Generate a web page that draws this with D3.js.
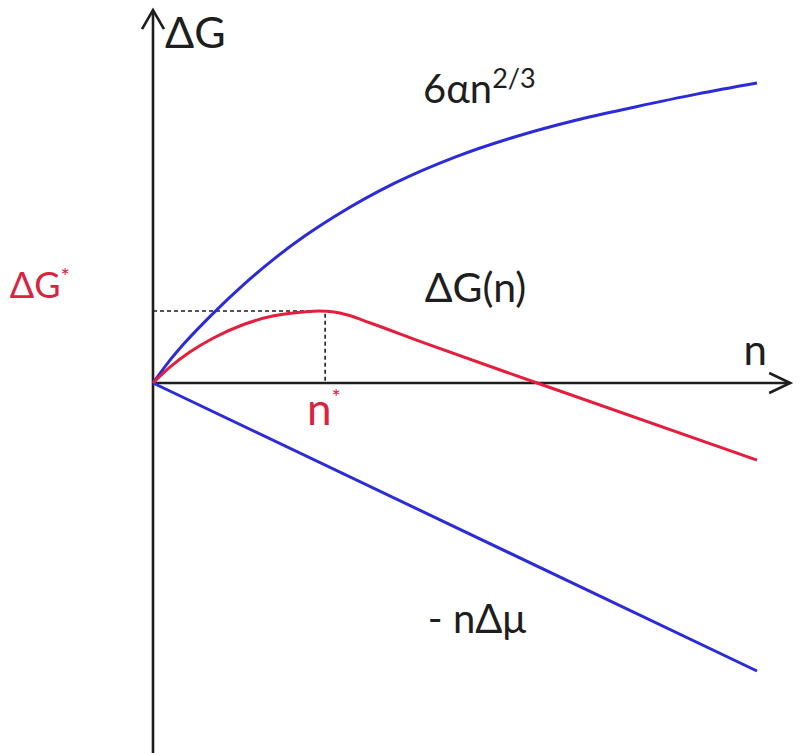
<!DOCTYPE html>
<html>
<head>
<meta charset="utf-8">
<script src="https://cdn.jsdelivr.net/npm/d3@7"></script>
<style>
  html, body { margin: 0; padding: 0; background: #fff; }
  svg text { font-family: Lato, "Open Sans", sans-serif; }
</style>
</head>
<body>
<div id="chart-container"></div>
<script>
// surface term 6*alpha*n^(2/3)
var surfaceN = [0, 0.25, 0.5, 1, 1.5, 2, 2.5, 3, 4, 5, 6, 7, 8, 9, 10];
var surfaceG = [0, 0.68, 1.28, 2.33, 3.28, 4.13, 4.88, 5.54, 6.66, 7.53, 8.21, 8.76, 9.21, 9.63, 10];

// total free energy DeltaG(n)
var totalN = [0, 0.3, 0.61, 1.0, 1.5, 2.0, 2.5, 2.75, 3.0, 3.25, 3.6, 4.5, 6.36, 10];
var totalG = [0, 0.56, 1.03, 1.5, 1.95, 2.24, 2.37, 2.4, 2.37, 2.25, 2.0, 1.33, 0, -2.57];

// bulk term -n*DeltaMu
var bulkN = [0, 10];
var bulkG = [0, -9.6];

// critical nucleus
var nStar = 2.85;
var gStar = 2.4;

// axis extents (data units)
var xAxisEnd = 10.55;
var yAxisTop = 12.43;
var yAxisBottom = -12.4;

var width = 800;
var height = 753;

var blue = "#2b2bd8";
var red = "#e41e3c";
var redText = "#d8243f";
var ink = "#1e1e1e";

var x = d3.scaleLinear().domain([0, 10]).range([153, 757]);
var y = d3.scaleLinear().domain([0, 10]).range([383, 83]);

var svg = d3.select("#chart-container")
    .append("svg")
    .attr("width", width)
    .attr("height", height);

function zip(a, b) {
    return a.map(function(v, i) { return [v, b[i]]; });
}

var line = d3.line()
    .x(function(d) { return x(d[0]); })
    .y(function(d) { return y(d[1]); })
    .curve(d3.curveMonotoneX);

//dashed guides to the maximum
svg.append("path")
    .attr("d", "M" + x(0) + "," + y(gStar) + "H" + x(nStar) + "V" + y(0))
    .attr("fill", "none")
    .attr("stroke", ink)
    .attr("stroke-width", 1.6)
    .attr("stroke-dasharray", "4,3");

//axes
svg.append("line")
    .attr("x1", x(0)).attr("y1", y(yAxisBottom))
    .attr("x2", x(0)).attr("y2", y(yAxisTop))
    .attr("stroke", ink).attr("stroke-width", 2.6);
svg.append("line")
    .attr("x1", x(0)).attr("y1", y(0))
    .attr("x2", x(xAxisEnd)).attr("y2", y(0))
    .attr("stroke", ink).attr("stroke-width", 2.6);

//arrow heads (open chevrons)
var tipY = [x(0), y(yAxisTop)];
svg.append("path")
    .attr("d", "M" + (tipY[0] - 11) + "," + (tipY[1] + 19) + "L" + tipY[0] + "," + tipY[1] + "L" + (tipY[0] + 11) + "," + (tipY[1] + 19))
    .attr("fill", "none").attr("stroke", ink).attr("stroke-width", 2.6);
var tipX = [x(xAxisEnd), y(0)];
svg.append("path")
    .attr("d", "M" + (tipX[0] - 21) + "," + (tipX[1] - 10) + "L" + tipX[0] + "," + tipX[1] + "L" + (tipX[0] - 21) + "," + (tipX[1] + 10))
    .attr("fill", "none").attr("stroke", ink).attr("stroke-width", 2.6);

//curves
svg.append("path")
    .attr("d", line(zip(bulkN, bulkG)))
    .attr("fill", "none").attr("stroke", blue).attr("stroke-width", 3);
svg.append("path")
    .attr("d", line(zip(surfaceN, surfaceG)))
    .attr("fill", "none").attr("stroke", blue).attr("stroke-width", 3);
svg.append("path")
    .attr("d", line(zip(totalN, totalG)))
    .attr("fill", "none").attr("stroke", red).attr("stroke-width", 3);

//labels
function label(n, g, size, color, anchor) {
    return svg.append("text")
        .attr("x", x(n))
        .attr("y", y(g))
        .attr("text-anchor", anchor || "start")
        .style("font-size", size + "px")
        .style("fill", color);
}

label(0.2, 11.17, 43, ink).text("ΔG");

var surf = label(4.47, 9.33, 40, ink);
surf.append("tspan").text("6αn");
surf.append("tspan").attr("dy", -15).style("font-size", "27px").text("2/3");

label(4.5, 2.7, 41, ink).text("ΔG(n)");
label(4.55, -8.33, 40, ink).text("- nΔμ");
label(9.97, 0.6, 42, ink, "middle").text("n");

var gs = label(-2.37, 2.83, 36, redText);
gs.append("tspan").text("ΔG");
gs.append("tspan").attr("dy", -14).style("font-size", "22px").text("*");

var ns = label(2.55, -1.4, 44, redText);
ns.append("tspan").text("n");
ns.append("tspan").attr("dy", -20).style("font-size", "22px").text("*");
</script>
</body>
</html>
